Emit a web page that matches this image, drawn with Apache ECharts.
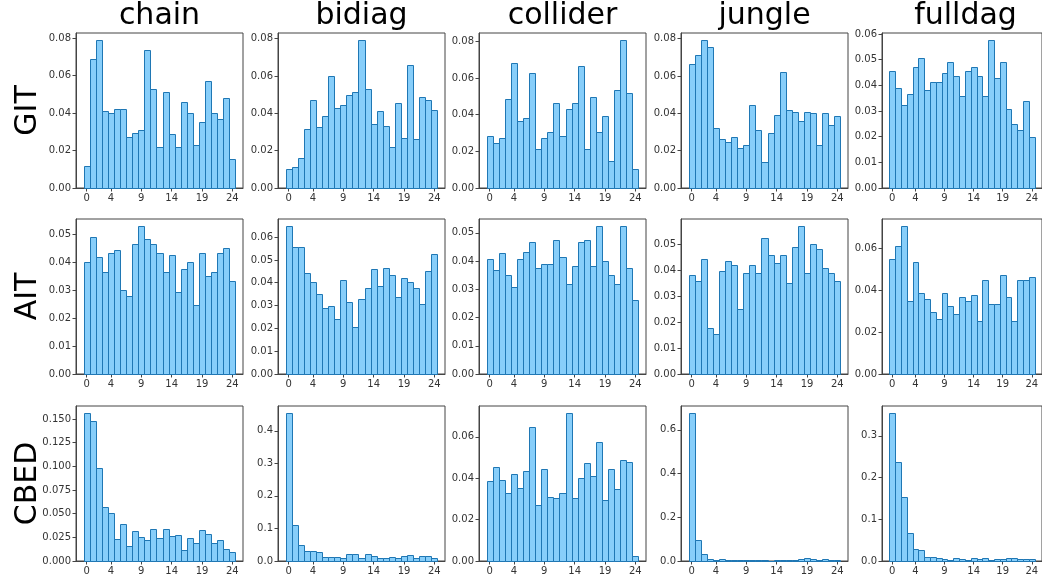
<!DOCTYPE html>
<html>
<head>
<meta charset="utf-8">
<script src="https://cdn.jsdelivr.net/npm/echarts@6/dist/echarts.min.js"></script>
<style>html,body{margin:0;padding:0;background:#fff;}#c{width:1042px;height:579px;}</style>
</head>
<body>
<div id="c"></div>
<script>
// ---- data ----
const columns = ['chain', 'bidiag', 'collider', 'jungle', 'fulldag'];
const rows = ['GIT', 'AIT', 'CBED'];
const xTickLabels = [0, 4, 9, 14, 19, 24];

const git_chain    = [0.0117,0.0688,0.0788,0.0412,0.0400,0.0420,0.0420,0.0274,0.0295,0.0310,0.0734,0.0528,0.0219,0.0510,0.0290,0.0219,0.0459,0.0398,0.0228,0.0352,0.0569,0.0398,0.0368,0.0480,0.0155];
const git_bidiag   = [0.0104,0.0115,0.0161,0.0317,0.0472,0.0328,0.0387,0.0600,0.0428,0.0444,0.0500,0.0515,0.0791,0.0532,0.0344,0.0415,0.0333,0.0220,0.0458,0.0270,0.0660,0.0260,0.0489,0.0472,0.0417];
const git_collider = [0.0284,0.0244,0.0270,0.0486,0.0683,0.0364,0.0381,0.0625,0.0213,0.0270,0.0306,0.0466,0.0284,0.0430,0.0466,0.0663,0.0213,0.0497,0.0306,0.0392,0.0148,0.0536,0.0805,0.0519,0.0106];
const git_jungle   = [0.0666,0.0714,0.0791,0.0755,0.0322,0.0265,0.0245,0.0274,0.0213,0.0229,0.0447,0.0311,0.0140,0.0295,0.0390,0.0619,0.0420,0.0406,0.0358,0.0406,0.0401,0.0229,0.0401,0.0338,0.0385];
const git_fulldag  = [0.0457,0.0390,0.0325,0.0366,0.0471,0.0506,0.0382,0.0412,0.0412,0.0449,0.0491,0.0435,0.0358,0.0457,0.0471,0.0435,0.0358,0.0575,0.0427,0.0491,0.0309,0.0249,0.0226,0.0340,0.0200];

const ait_chain    = [0.0403,0.0490,0.0421,0.0364,0.0435,0.0446,0.0302,0.0281,0.0466,0.0529,0.0484,0.0466,0.0435,0.0364,0.0427,0.0295,0.0375,0.0403,0.0249,0.0435,0.0351,0.0364,0.0435,0.0452,0.0333];
const ait_bidiag   = [0.0647,0.0557,0.0557,0.0443,0.0405,0.0351,0.0289,0.0296,0.0241,0.0412,0.0314,0.0207,0.0330,0.0377,0.0459,0.0386,0.0466,0.0433,0.0339,0.0421,0.0405,0.0377,0.0305,0.0452,0.0524];
const ait_collider = [0.0408,0.0367,0.0427,0.0350,0.0308,0.0408,0.0432,0.0468,0.0377,0.0391,0.0391,0.0474,0.0415,0.0320,0.0384,0.0468,0.0474,0.0384,0.0523,0.0400,0.0350,0.0320,0.0523,0.0377,0.0261];
const ait_jungle   = [0.0380,0.0358,0.0443,0.0178,0.0155,0.0396,0.0436,0.0421,0.0250,0.0388,0.0421,0.0388,0.0523,0.0459,0.0429,0.0459,0.0351,0.0490,0.0568,0.0388,0.0501,0.0482,0.0407,0.0388,0.0358];
const ait_fulldag  = [0.0552,0.0613,0.0706,0.0347,0.0538,0.0389,0.0357,0.0296,0.0264,0.0389,0.0325,0.0288,0.0366,0.0347,0.0379,0.0254,0.0450,0.0334,0.0334,0.0474,0.0366,0.0254,0.0450,0.0450,0.0464];

const cbed_chain    = [0.1560,0.1479,0.0983,0.0573,0.0502,0.0233,0.0396,0.0163,0.0315,0.0255,0.0226,0.0343,0.0244,0.0336,0.0265,0.0272,0.0120,0.0244,0.0195,0.0325,0.0283,0.0195,0.0223,0.0127,0.0099];
const cbed_bidiag   = [0.4535,0.1120,0.0494,0.0319,0.0319,0.0288,0.0134,0.0134,0.0134,0.0103,0.0216,0.0216,0.0103,0.0216,0.0165,0.0103,0.0103,0.0134,0.0103,0.0165,0.0195,0.0080,0.0165,0.0165,0.0080];
const cbed_collider = [0.0388,0.0454,0.0393,0.0327,0.0422,0.0351,0.0435,0.0649,0.0272,0.0445,0.0309,0.0302,0.0327,0.0713,0.0306,0.0403,0.0472,0.0412,0.0573,0.0294,0.0445,0.0346,0.0487,0.0477,0.0026];
const cbed_jungle   = [0.6750,0.0964,0.0337,0.0107,0.0060,0.0107,0.0060,0.0060,0.0060,0.0060,0.0060,0.0060,0.0060,0.0020,0.0060,0.0030,0.0030,0.0060,0.0107,0.0150,0.0107,0.0060,0.0107,0.0060,0.0030];
const cbed_fulldag  = [0.3537,0.2366,0.1532,0.0674,0.0297,0.0273,0.0096,0.0096,0.0080,0.0040,0.0025,0.0080,0.0056,0.0030,0.0080,0.0056,0.0080,0.0030,0.0056,0.0056,0.0080,0.0080,0.0056,0.0056,0.0056];

const seriesData = [
  [git_chain, git_bidiag, git_collider, git_jungle, git_fulldag],
  [ait_chain, ait_bidiag, ait_collider, ait_jungle, ait_fulldag],
  [cbed_chain, cbed_bidiag, cbed_collider, cbed_jungle, cbed_fulldag]
];
// y tick step and label decimals per subplot
const yTickStep = [
  [0.02, 0.02, 0.02, 0.02, 0.01],
  [0.01, 0.01, 0.01, 0.01, 0.02],
  [0.025, 0.1, 0.02, 0.2, 0.1]
];
const yDecimals = [
  [2, 2, 2, 2, 2],
  [2, 2, 2, 2, 2],
  [3, 1, 2, 1, 1]
];

// ---- layout ----
const lefts = [76, 278, 479, 681, 882];
const tops = [33, 219, 406];
const gw = 167, gh = 155;
const FONT = 'DejaVu Sans';

const grids = [], xAxes = [], yAxes = [], series = [], graphics = [];
let idx = 0;
for (let r = 0; r < 3; r++) {
  for (let c = 0; c < 5; c++) {
    const vals = seriesData[r][c];
    const ymax = Math.max.apply(null, vals) * 1.05;
    const step = yTickStep[r][c];
    const ticks = [];
    for (let k = 0; k * step <= ymax + 1e-12; k++) ticks.push(+(k * step).toFixed(6));
    const dec = yDecimals[r][c];
    grids.push({left: lefts[c], top: tops[r], width: gw, height: gh, show: true,
      borderColor: '#444', borderWidth: 1, backgroundColor: 'transparent'});
    xAxes.push({type: 'value', gridIndex: idx, min: -1.75, max: 25.75,
      axisLine: {show: true, onZero: false, lineStyle: {color: '#444'}},
      axisTick: {show: true, length: 3.5, customValues: xTickLabels, lineStyle: {color: '#444'}},
      axisLabel: {customValues: xTickLabels, fontFamily: FONT, fontSize: 10, color: '#333', margin: 5},
      splitLine: {show: false}});
    yAxes.push({type: 'value', gridIndex: idx, min: 0, max: ymax,
      axisLine: {show: true, onZero: false, lineStyle: {color: '#444'}},
      axisTick: {show: true, length: 3.5, customValues: ticks, lineStyle: {color: '#444'}},
      axisLabel: {customValues: ticks, fontFamily: FONT, fontSize: 10, color: '#333', margin: 5,
        formatter: v => v.toFixed(dec)},
      splitLine: {show: false}});
    series.push({type: 'custom', xAxisIndex: idx, yAxisIndex: idx,
      data: vals.map((v, i) => [i, v]),
      encode: {x: 0, y: 1},
      renderItem: function (params, api) {
        const x = api.value(0), y = api.value(1);
        const p1 = api.coord([x - 0.5, y]);
        const p2 = api.coord([x + 0.5, 0]);
        return {type: 'rect',
          shape: {x: Math.round(p1[0]) + 0.5, y: Math.round(p1[1]) + 0.5,
                  width: Math.round(p2[0]) - Math.round(p1[0]), height: Math.round(p2[1]) - Math.round(p1[1])},
          style: {fill: '#87cefa', stroke: '#1f77b4', lineWidth: 1}};
      }});
    idx++;
  }
}
columns.forEach((name, c) => {
  graphics.push({type: 'text', x: lefts[c] + gw / 2, y: 16,
    style: {text: name, font: '30px "' + FONT + '"', fill: '#000', align: 'center', verticalAlign: 'middle'}});
});
rows.forEach((name, r) => {
  graphics.push({type: 'text', x: 28, y: tops[r] + gh / 2, rotation: Math.PI / 2,
    style: {text: name, font: '30px "' + FONT + '"', fill: '#000', align: 'center', verticalAlign: 'middle'}});
});

const chart = echarts.init(document.getElementById('c'), null, {renderer: 'canvas'});
chart.setOption({animation: false, grid: grids, xAxis: xAxes, yAxis: yAxes, series: series, graphic: graphics});
</script>
</body>
</html>
